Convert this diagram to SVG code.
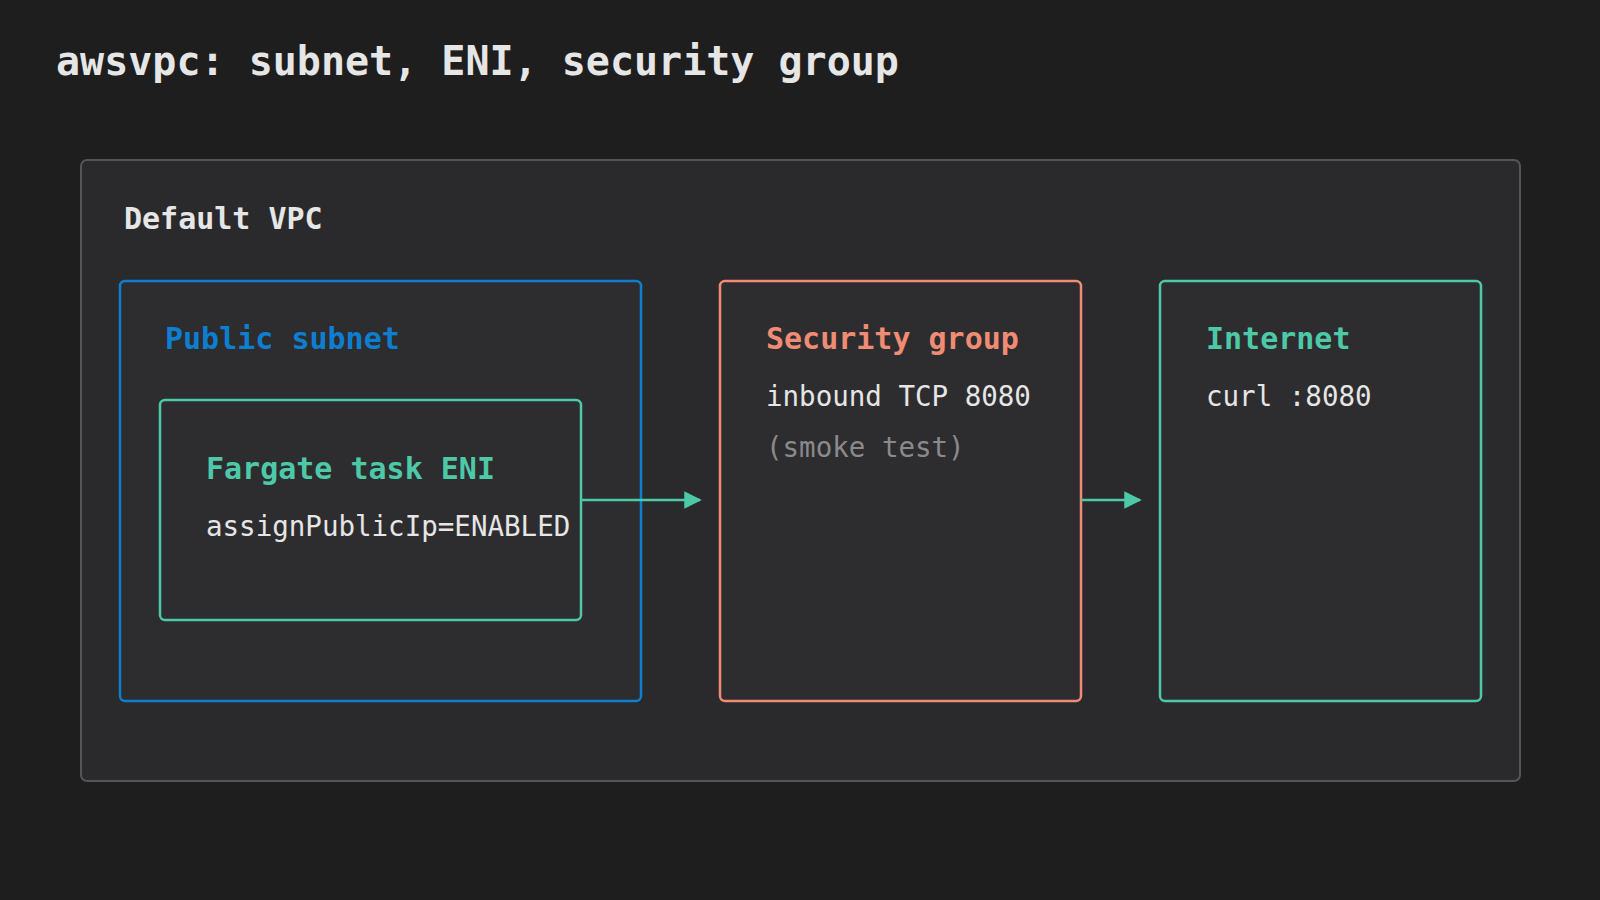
<svg xmlns="http://www.w3.org/2000/svg" width="1600" height="900" viewBox="0 0 1600 900">
<defs>
<style>
text{font-family:"DejaVu Sans Mono","Liberation Mono",monospace}
.h{font-weight:bold;font-size:30px}
.b{font-size:27.5px;fill:#e6e6e6}
.g{fill:#8a8a8a}
.box{fill:#2d2d30;stroke-width:2.5}
</style>
<marker id="ar" viewBox="0 0 10 10" refX="9" refY="5" markerWidth="7" markerHeight="7" orient="auto" markerUnits="strokeWidth"><path d="M0,0L10,5L0,10z" fill="#4ec9a8"/></marker>
</defs>
<rect width="1600" height="900" fill="#1e1e1e"/>
<text x="56" y="75" font-size="40" font-weight="bold" fill="#e6e6e6">awsvpc: subnet, ENI, security group</text>
<g id="vpc"><rect x="81" y="160" width="1439" height="621" rx="6" fill="#2a2a2c" stroke="#555" stroke-width="2"/><text class="h" x="124" y="229" fill="#e6e6e6">Default VPC</text></g>
<g id="subnet"><rect class="box" x="120" y="281" width="521" height="420" rx="5" stroke="#0e7fd0"/><text class="h" x="165" y="349" fill="#0e7fd0">Public subnet</text></g>
<g id="eni"><rect class="box" x="160" y="400" width="421" height="220" rx="5" stroke="#4ec9a8"/><text class="h" x="206" y="479" fill="#4ec9a8">Fargate task ENI</text><text class="b" x="206" y="536">assignPublicIp=ENABLED</text></g>
<g id="sg"><rect class="box" x="720" y="281" width="361" height="420" rx="5" stroke="#f08c73"/><text class="h" x="766" y="349" fill="#f08c73">Security group</text><text class="b" x="766" y="406">inbound TCP 8080</text><text class="b g" x="766" y="457">(smoke test)</text></g>
<g id="internet"><rect class="box" x="1160" y="281" width="321" height="420" rx="5" stroke="#4ec9a8"/><text class="h" x="1206" y="349" fill="#4ec9a8">Internet</text><text class="b" x="1206" y="406">curl :8080</text></g>
<g id="connectors" stroke="#4ec9a8" stroke-width="2.5" fill="none">
<line x1="581" y1="500" x2="700" y2="500" marker-end="url(#ar)"/>
<line x1="1081" y1="500" x2="1140" y2="500" marker-end="url(#ar)"/>
</g>
</svg>
